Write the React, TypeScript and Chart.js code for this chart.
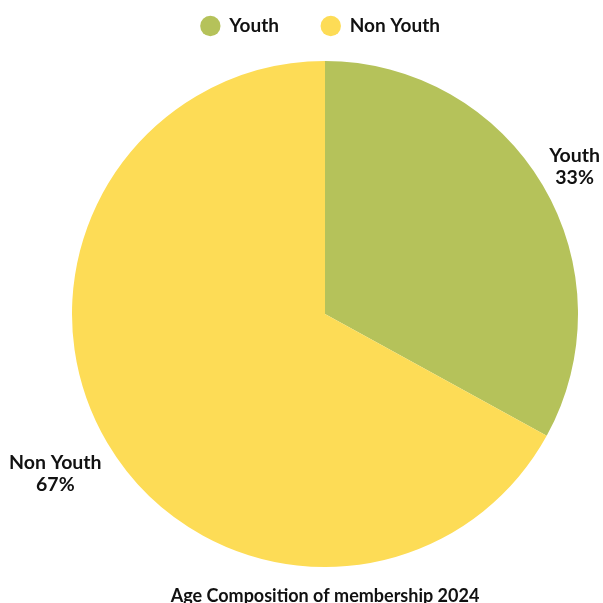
import React, { useEffect, useRef } from "react";
import { Chart, registerables } from "chart.js";

Chart.register(...registerables);

const categories = ["Youth", "Non Youth"];
const values = [33, 67];
const percentLabels = ["33%", "67%"];
const colors = ["#b5c25a", "#fddc56"];
const chartTitle = "Age Composition of membership 2024";

const FONT = "Lato, 'Noto Sans', sans-serif";
const LEGEND_SIZE = 19;
const LABEL_SIZE = 19.5;

const outsideLabels = {
  id: "outsideLabels",
  afterDatasetsDraw(chart: any) {
    const { ctx } = chart;
    const meta = chart.getDatasetMeta(0);
    ctx.save();
    ctx.font = `bold ${LABEL_SIZE}px ${FONT}`;
    ctx.fillStyle = "#111111";
    ctx.textAlign = "center";
    ctx.textBaseline = "middle";
    const lineH = 22;
    meta.data.forEach((arc: any, i: number) => {
      const { x, y, startAngle, endAngle, outerRadius } = arc.getProps(
        ["x", "y", "startAngle", "endAngle", "outerRadius"],
        true
      );
      const mid = (startAngle + endAngle) / 2;
      const dx = Math.cos(mid);
      const dy = Math.sin(mid);
      const lines = [categories[i], percentLabels[i]];
      const w = Math.max(...lines.map((l) => ctx.measureText(l).width));
      const h = lines.length * lineH;
      const off = -2.7 + Math.abs(dx) * (w / 2) * 1.3 + Math.abs(dy) * (h / 2);
      let cx = x + dx * (outerRadius + off);
      const cy = y + dy * (outerRadius + off);
      cx = Math.min(cx, chart.width - w / 2);
      cx = Math.max(cx, w / 2);
      lines.forEach((l, j) => {
        ctx.fillText(l, cx, cy - h / 2 + lineH * (j + 0.5));
      });
    });
    ctx.restore();
  },
};

function padText(text: string, extra: number): string {
  const c = document.createElement("canvas").getContext("2d");
  if (!c) return text;
  c.font = `bold ${LEGEND_SIZE}px ${FONT}`;
  const base = c.measureText(text).width;
  let t = text;
  let best = t;
  let bestErr = Math.abs(extra);
  for (let k = 1; k < 40; k++) {
    t += " ";
    const err = Math.abs(c.measureText(t).width - base - extra);
    if (err < bestErr) {
      bestErr = err;
      best = t;
    }
  }
  return best;
}

export default function App() {
  const ref = useRef<HTMLCanvasElement | null>(null);
  useEffect(() => {
    if (!ref.current) return;
    const baseGen = (Chart as any).overrides.pie.plugins.legend.labels.generateLabels;
    const chart = new Chart(ref.current, {
      type: "pie",
      data: {
        labels: categories,
        datasets: [
          {
            data: values,
            backgroundColor: colors,
            borderWidth: 0,
          },
        ],
      },
      plugins: [outsideLabels],
      options: {
        animation: false,
        responsive: true,
        maintainAspectRatio: false,
        layout: { padding: { left: 72, right: 25, top: 6.5, bottom: 0 } },
        plugins: {
          legend: {
            position: "top",
            labels: {
              usePointStyle: true,
              pointStyle: "circle",
              boxHeight: 14.4,
              padding: 10,
              color: "#111111",
              font: { family: FONT, size: LEGEND_SIZE, weight: "bold" },
              generateLabels: (ch: any) => {
                const items = baseGen(ch);
                items.forEach((it: any, i: number) => {
                  it.text = padText(it.text, i < items.length - 1 ? 31.5 : 9);
                });
                return items;
              },
            },
          },
          title: {
            display: true,
            position: "bottom",
            text: chartTitle,
            color: "#111111",
            padding: { top: 3, bottom: 10 },
            font: { family: FONT, size: 18, weight: "bold" },
          },
          tooltip: { enabled: false },
        },
      },
    });
    return () => chart.destroy();
  }, []);
  return (
    <div style={{ position: "absolute", left: 0, top: 0, width: 603, height: 617 }}>
      <canvas ref={ref} />
    </div>
  );
}
